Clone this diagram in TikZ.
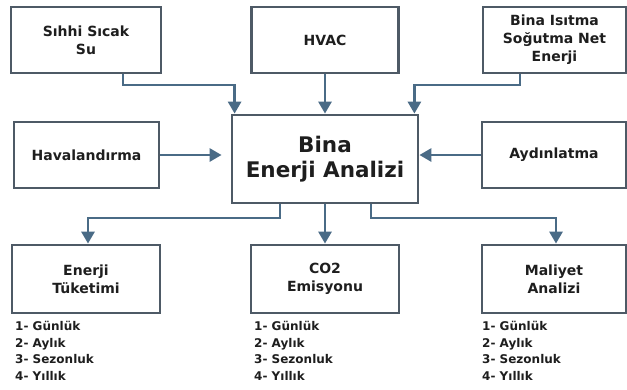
\documentclass[tikz,border=0pt]{standalone}
\usepackage{fontspec}
\setmainfont{DejaVu Sans}
\usetikzlibrary{arrows.meta,calc}
\definecolor{boxline}{HTML}{4E5A66}
\definecolor{arrowblue}{HTML}{4A6B86}
\definecolor{txt}{HTML}{1E1E1E}
\tikzset{
  box/.style={draw=boxline,line width=2.8pt,fill=white,text=txt,align=center,
    font=\fontsize{14}{18}\selectfont\bfseries,inner sep=0pt},
  mainbox/.style={box,font=\fontsize{21.5}{25}\selectfont\bfseries},
  conn/.style={draw=arrowblue,line width=2.8pt,-{Triangle[width=13pt,length=12pt]}},
  list/.style={anchor=west,align=left,inner sep=0pt,text=txt,
    font=\fontsize{12}{16.7}\selectfont\bfseries}
}

\begin{document}
\begin{tikzpicture}[x=1pt,y=-1pt]
\useasboundingbox[fill=white] (0,0) rectangle (627,389);
% input boxes
\node[box,minimum width=150,minimum height=66] (ssu) at (86,40) {Sıhhi Sıcak\\Su};
\node[box,minimum width=147,minimum height=66] (hvac) at (325,40) {HVAC};
\node[box,minimum width=143,minimum height=66] (bisn) at (554.5,40) {Bina Isıtma\\Soğutma Net\\Enerji};
\node[box,minimum width=145,minimum height=66] (hav) at (86.5,155) {Havalandırma};
\node[box,minimum width=144,minimum height=66] (ayd) at (554,155) {Aydınlatma};
% main box
\node[mainbox,minimum width=186,minimum height=88] (bea) at (325,159) {\raisebox{-2pt}{Bina}\\\raisebox{-2pt}{Enerji Analizi}};
% output boxes
\node[box,minimum width=148,minimum height=68] (ent) at (86,279) {Enerji\\Tüketimi};
\node[box,minimum width=148,minimum height=68] (co2) at (325,279) {CO2\\Emisyonu};
\node[box,minimum width=144,minimum height=68] (mal) at (554,279) {Maliyet\\Analizi};
% lists
\node[list] (lent) at (15,351) {1- Günlük\\2- Aylık\\3- Sezonluk\\4- Yıllık};
\node[list] (lco2) at (254,351) {1- Günlük\\2- Aylık\\3- Sezonluk\\4- Yıllık};
\node[list] (lmal) at (482,351) {1- Günlük\\2- Aylık\\3- Sezonluk\\4- Yıllık};
% connectors in
\coordinate (c1) at (123,85);
\coordinate (c2) at (520,85);
\draw[conn] (ssu.south -| c1) -- (c1) -| ([xshift=4pt]bea.north west);
\draw[conn] (hvac.south) -- (bea.north);
\draw[conn] (bisn.south -| c2) -- (c2) -| ([xshift=-5pt]bea.north east);
\draw[conn,shorten >=9pt] (hav.east) -- (hav.east -| bea.west);
\draw[conn] (ayd.west) -- (ayd.west -| bea.east);
% connectors out
\coordinate (c3) at (280,218);
\coordinate (c4) at (371,218);
\draw[conn] (bea.south -| c3) -- (c3) -| ([xshift=2pt]ent.north);
\draw[conn] (bea.south) -- (co2.north);
\draw[conn] (bea.south -| c4) -- (c4) -| ([xshift=2pt]mal.north);
\end{tikzpicture}
\end{document}
